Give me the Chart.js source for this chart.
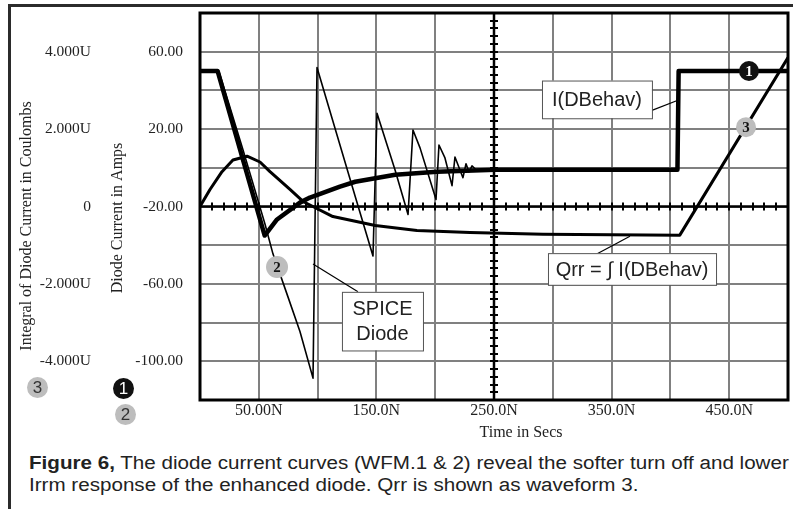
<!DOCTYPE html>
<html>
<head>
<meta charset="utf-8">
<script src="https://cdn.jsdelivr.net/npm/chart.js@4.4.1/dist/chart.umd.min.js"></script>
<style>
	body { margin: 0; background: #fff; }
	#page { position: relative; width: 793px; height: 509px; overflow: hidden; font-family: "Liberation Sans", Arial, sans-serif; }
	.rule-top { position: absolute; left: 8px; top: 4px; width: 785px; height: 3px; background: #2b2b2b; }
	.rule-left { position: absolute; left: 8px; top: 4px; width: 3px; height: 505px; background: #2b2b2b; }
	#chartBox { position: absolute; left: 0; top: 0; width: 793px; height: 445px; }
	.badge { position: absolute; width: 21px; height: 21px; border-radius: 50%; text-align: center; line-height: 21px; font-size: 17px; }
	.badge.gray { background: #bdbdbd; color: #333; }
	.badge.black { background: #111; color: #fff; }
	.caption { position: absolute; left: 29px; top: 452px; font-size: 18px; line-height: 22px; color: #222; white-space: nowrap; transform: scaleX(1.145); transform-origin: 0 0; }
</style>
</head>
<body>
<div id="page">
	<div class="rule-top"></div>
	<div class="rule-left"></div>
	<div id="chartBox"><canvas id="diodeChart" width="793" height="445"></canvas></div>
	<div class="badge gray" style="left:27px;top:377px">3</div>
	<div class="badge black" style="left:113px;top:378px">1</div>
	<div class="badge gray" style="left:115px;top:404px">2</div>
	<div class="caption"><b>Figure 6,</b> The diode current curves (WFM.1 &amp; 2) reveal the softer turn off and lower<br>Irrm response of the enhanced diode. Qrr is shown as waveform 3.</div>
</div>
<script>
// time in ns, current in A, charge in uC
const dbehavT = [0, 15, 55, 65.5, 85, 93.5, 119, 132, 166, 201.5, 251, 406, 407, 500];
const dbehavI = [50, 50, -35, -26.7, -18, -15.4, -9.7, -7.2, -3.6, -2.1, -1, -1, 50, 50];

const spiceT = [0, 16, 36.6, 55.3, 62.1, 74.8, 85, 96.1, 99.5, 131.8, 147.1, 150.5, 165.8, 176.9, 181.1, 187.1,
	200.7, 203.2, 208.3, 214.3, 216.8, 223.6, 226.2, 228.7, 231.3, 234.7, 406, 407, 500];
const spiceI = [50, 50, 9.2, -29.2, -44.6, -66.7, -84.6, -108.7, 51.8, -14.4, -45.6, 28.2, -1.0, -24.1, 19.5, 10.3,
	-16.4, 11.8, 5.1, -9.2, 5.6, -5.1, 2.1, -2.1, 1.0, -1.0, -1, 50, 50];

const qrrT = [0, 8.5, 18.7, 28, 40, 51, 59.5, 76.5, 87.6, 96, 113, 132, 149, 184.5, 229.6, 291.7, 408, 500];
const qrrQ = [0, 0.44, 0.9, 1.2, 1.3, 1.15, 0.9, 0.44, 0.13, 0, -0.26, -0.38, -0.49, -0.62, -0.67, -0.72, -0.74, 3.85];

const xLabelAt = [50, 150, 250, 350, 450];
const ampLabelAt = [60, 20, -20, -60, -100];
const coulLabelAt = [4, 2, 0, -2, -4];

const pairs = (ts, vs) => ts.map((t, i) => ({ x: t, y: vs[i] }));

const serif = '"Liberation Serif", "Times New Roman", serif';
const sans = '"Liberation Sans", Arial, sans-serif';

/* -------------------------------------------------------------
 * decorations: scope axes, frame, callouts, waveform badges
 * ------------------------------------------------------------- */

function badge(ctx, x, y, r, fill, color, text) {
	ctx.beginPath();
	ctx.arc(x, y, r, 0, Math.PI * 2);
	ctx.fillStyle = fill;
	ctx.fill();
	ctx.fillStyle = color;
	ctx.font = 'bold 15px ' + serif;
	ctx.textAlign = 'center';
	ctx.textBaseline = 'middle';
	ctx.fillText(text, x, y + 1);
}

function callout(ctx, box, lines, lead) {
	const [l, t, r, b] = box;
	ctx.beginPath();
	ctx.moveTo(lead[0], lead[1]);
	ctx.lineTo(lead[2], lead[3]);
	ctx.strokeStyle = '#000';
	ctx.lineWidth = 1.2;
	ctx.stroke();
	ctx.fillStyle = '#fff';
	ctx.fillRect(l, t, r - l, b - t);
	ctx.strokeStyle = '#555';
	ctx.lineWidth = 1;
	ctx.strokeRect(l + 0.5, t + 0.5, r - l, b - t);
	ctx.fillStyle = '#222';
	ctx.font = '20px ' + sans;
	ctx.textAlign = 'center';
	ctx.textBaseline = 'middle';
	const step = 25;
	const y0 = (t + b) / 2 - (lines.length - 1) * step / 2;
	lines.forEach((s, i) => ctx.fillText(s, (l + r) / 2, y0 + i * step + 1));
}

const scopeDecor = {
	id: 'scopeDecor',
	beforeDatasetsDraw(chart) {
		const { ctx, chartArea: a, scales: { x, yA } } = chart;
		const y0 = yA.getPixelForValue(-20);
		const x0 = x.getPixelForValue(250);
		ctx.save();
		ctx.strokeStyle = '#000';
		ctx.lineWidth = 2.5;
		ctx.beginPath();
		ctx.moveTo(a.left, y0); ctx.lineTo(a.right, y0);
		ctx.moveTo(x0, a.top); ctx.lineTo(x0, a.bottom);
		ctx.stroke();
		ctx.lineWidth = 2;
		ctx.beginPath();
		for (let t = 10; t < 500; t += 10) {
			const px = Math.round(x.getPixelForValue(t));
			ctx.moveTo(px, y0 - 4); ctx.lineTo(px, y0 + 4);
		}
		for (let v = -116; v < 80; v += 4) {
			const py = Math.round(yA.getPixelForValue(v));
			ctx.moveTo(x0 - 4, py); ctx.lineTo(x0 + 4, py);
		}
		ctx.stroke();
		ctx.restore();
	},
	afterDatasetsDraw(chart) {
		const { ctx, chartArea: a, scales: { x, yA, yQ } } = chart;
		const px = t => x.getPixelForValue(t);
		const pa = v => yA.getPixelForValue(v);
		ctx.save();
		ctx.strokeStyle = '#000';
		ctx.lineWidth = 3;
		ctx.strokeRect(a.left, a.top, a.right - a.left, a.bottom - a.top);

		callout(ctx, [px(290.8), pa(45.1), px(384.3), pa(25.6)], ['I(DBehav)'],
			[px(384.3), pa(29.7), px(406.4), pa(34.9)]);
		callout(ctx, [px(295.9), pa(-44.1), px(438.8), pa(-60.5)], ['Qrr = \u222B I(DBehav)'],
			[px(334.2), pa(-45.6), px(365.6), pa(-35.4)]);
		callout(ctx, [px(120.7), pa(-64.1), px(189.6), pa(-94.4)], ['SPICE', 'Diode'],
			[px(134.3), pa(-64.1), px(96.1), pa(-49.7)]);

		badge(ctx, px(466.8), pa(50), 10, '#111', '#fff', '1');
		badge(ctx, px(464.3), yQ.getPixelForValue(2.05), 10, '#bdbdbd', '#111', '3');
		badge(ctx, px(65.5), pa(-51.3), 11, '#bdbdbd', '#111', '2');
		ctx.restore();
	},
	afterDraw(chart) {
		const { ctx } = chart;
		ctx.save();
		ctx.fillStyle = '#222';
		ctx.font = '16px ' + serif;
		ctx.textAlign = 'center';
		ctx.textBaseline = 'middle';
		ctx.fillText('Time in Secs', 521, 433);
		[['Integral of Diode Current in Coulombs', 27, 226], ['Diode Current in Amps', 118, 218]].forEach(([s, cx, cy]) => {
			ctx.save();
			ctx.translate(cx, cy);
			ctx.rotate(-Math.PI / 2);
			ctx.fillText(s, 0, 0);
			ctx.restore();
		});
		ctx.restore();
	}
};

/* -------------------------------------------------------------
 * chart
 * ------------------------------------------------------------- */

const tickFont = { family: serif, size: 15.5 };
const gridGray = '#808080';

// fixed axis width; drop the label padding chart.js adds above/below the plot
const fixAxis = w => s => {
	s.width = w;
	s.paddingTop = 0;
	s.paddingBottom = 0;
};

new Chart(document.getElementById('diodeChart'), {
	type: 'line',
	data: {
		datasets: [
			{
				label: 'Qrr',
				data: pairs(qrrT, qrrQ),
				yAxisID: 'yQ',
				borderColor: '#000',
				borderWidth: 3
			},
			{
				label: 'SPICE Diode',
				data: pairs(spiceT, spiceI),
				yAxisID: 'yA',
				borderColor: '#000',
				borderWidth: 1.6
			},
			{
				label: 'I(DBehav)',
				data: pairs(dbehavT, dbehavI),
				yAxisID: 'yA',
				borderColor: '#000',
				borderWidth: 4.5
			}
		]
	},
	options: {
		responsive: false,
		animation: false,
		devicePixelRatio: 1,
		layout: { padding: { left: 0, top: 13, right: 5, bottom: 0 } },
		elements: {
			point: { radius: 0 },
			line: { tension: 0, borderJoinStyle: 'round', borderCapStyle: 'butt' }
		},
		plugins: { legend: { display: false }, tooltip: { enabled: false } },
		scales: {
			x: {
				type: 'linear',
				min: 0,
				max: 500,
				afterFit: s => { s.height = 45; },
				border: { display: false },
				grid: { color: gridGray, lineWidth: 2, drawTicks: false },
				ticks: {
					stepSize: 50,
					padding: 1,
					maxRotation: 0,
					autoSkip: false,
					color: '#222',
					font: { family: serif, size: 16 },
					callback: v => xLabelAt.includes(v) ? (v < 100 ? v.toFixed(2) : v.toFixed(1)) + 'N' : ''
				}
			},
			yQ: {
				position: 'left',
				weight: 2,
				min: -5,
				max: 5,
				afterFit: fixAxis(100),
				border: { display: false },
				grid: { display: false, drawTicks: false },
				ticks: {
					stepSize: 1,
					padding: 9,
					autoSkip: false,
					color: '#222',
					font: tickFont,
					callback: v => coulLabelAt.includes(v) ? (v === 0 ? '0' : v.toFixed(3) + 'U') : ''
				}
			},
			yA: {
				position: 'left',
				weight: 1,
				min: -120,
				max: 80,
				afterFit: fixAxis(100),
				border: { display: false },
				grid: { color: gridGray, lineWidth: 2, drawTicks: false },
				ticks: {
					stepSize: 20,
					padding: 17,
					autoSkip: false,
					color: '#222',
					font: tickFont,
					callback: v => ampLabelAt.includes(v) ? v.toFixed(2) : ''
				}
			}
		}
	},
	plugins: [scopeDecor]
});
</script>
</body>
</html>
